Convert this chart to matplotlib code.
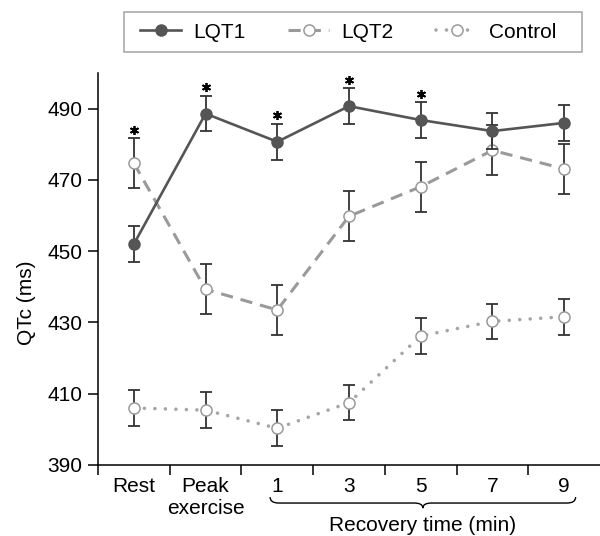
import matplotlib
matplotlib.use("Agg")
import matplotlib.pyplot as plt
from matplotlib.path import Path
from matplotlib.patches import PathPatch, Rectangle
from matplotlib.lines import Line2D

plt.rcParams['font.family'] = ['Liberation Sans', 'DejaVu Sans']

# ---------------- data ----------------
categories = ["Rest", "Peak\nexercise", "1", "3", "5", "7", "9"]
lqt1 = [452.0, 488.6, 480.7, 490.7, 486.8, 483.7, 486.0]
lqt1_err = [5.0, 5.0, 5.0, 5.0, 5.0, 5.0, 5.0]
lqt2 = [474.7, 439.3, 433.5, 459.8, 468.1, 478.3, 473.1]
lqt2_err = [7.0, 7.0, 7.0, 7.0, 7.0, 7.0, 7.0]
control = [406.0, 405.4, 400.3, 407.5, 426.2, 430.3, 431.6]
control_err = [5.0, 5.0, 5.0, 5.0, 5.0, 5.0, 5.0]
significant = [True, True, True, True, True, False, False]
yticks = [390, 410, 430, 450, 470, 490]
series_names = ["LQT1", "LQT2", "Control"]
recovery_label = "Recovery time (min)"
ylabel = "QTc (ms)"

FS = 15
W, H = 600, 536

# ---------------- figure ----------------
fig = plt.figure(figsize=(W/100, H/100), dpi=100)
ax = fig.add_axes([98/W, 1-465/H, 1-98/W, (465-73)/H])

x = list(range(len(categories)))
ecol = "#333333"

# Control
ax.errorbar(x, control, yerr=control_err, fmt='none', ecolor=ecol, elinewidth=1.3,
            capsize=4, capthick=1.3, zorder=1)
ax.plot(x, control, color="#a6a6a6", lw=2.6, linestyle=(0, (0.01, 2.9)),
        dash_capstyle='round', marker='o', ms=8, mfc='white', mec='#9a9a9a',
        mew=1.1, zorder=1.5)
# LQT2
ax.errorbar(x, lqt2, yerr=lqt2_err, fmt='none', ecolor=ecol, elinewidth=1.3,
            capsize=4, capthick=1.3, zorder=2)
ax.plot(x, lqt2, color="#9a9a9a", lw=2.2, linestyle=(0, (4, 2.6)),
        marker='o', ms=8, mfc='white', mec='#9a9a9a', mew=1.1, zorder=2.5)
# LQT1
ax.errorbar(x, lqt1, yerr=lqt1_err, fmt='none', ecolor=ecol, elinewidth=1.3,
            capsize=4, capthick=1.3, zorder=3)
ax.plot(x, lqt1, color="#555555", lw=1.9, linestyle='-',
        marker='o', ms=8, mfc='#555555', mec='#555555', zorder=3.5)

# significance stars
for i, s in enumerate(significant):
    if s:
        top = max(lqt1[i] + lqt1_err[i], lqt2[i] + lqt2_err[i])
        ax.plot([i], [top + 2.4], marker=(6, 2, 0), ms=6.5, mew=1.3,
                color='black', zorder=5, clip_on=False)

# axes styling
ax.set_xlim(-0.5, len(categories) - 0.5)
ax.set_ylim(390, 500)
ax.set_yticks(yticks)
ax.set_yticklabels([str(v) for v in yticks])
ax.spines['top'].set_visible(False)
ax.spines['right'].set_visible(False)
for sp in ('left', 'bottom'):
    ax.spines[sp].set_linewidth(1.1)
ax.tick_params(axis='y', which='major', length=7.5, width=1.1, labelsize=FS, pad=3.5)

ax.set_xticks([i - 0.5 for i in x])
ax.set_xticklabels([])
ax.set_xticks(x, minor=True)
ax.set_xticklabels(categories, minor=True, fontsize=FS, linespacing=1.15)
ax.tick_params(axis='x', which='major', length=7, width=1.1)
ax.tick_params(axis='x', which='minor', length=0, pad=9)

ax.set_ylabel(ylabel, fontsize=FS)
ax.yaxis.set_label_coords(-0.124, 0.415)

# brace under recovery times
tr = ax.get_xaxis_transform()
x0, x1 = 1.9, 6.16
xc = (x0 + x1) / 2
ye, ym, yt = -0.082, -0.097, -0.110
d = 0.12
verts = [(x0, ye), (x0, ym), (x0 + d, ym), (xc - d, ym), (xc, ym), (xc, yt),
         (xc, ym), (xc + d, ym), (x1 - d, ym), (x1, ym), (x1, ye)]
codes = [Path.MOVETO, Path.CURVE3, Path.CURVE3, Path.LINETO, Path.CURVE3, Path.CURVE3,
         Path.CURVE3, Path.CURVE3, Path.LINETO, Path.CURVE3, Path.CURVE3]
ax.add_patch(PathPatch(Path(verts, codes), transform=tr, fill=False,
                       edgecolor='black', lw=1.0, clip_on=False))
ax.text(xc, -0.155, recovery_label, transform=tr, ha='center', va='center', fontsize=FS)

# legend
handles = [
    Line2D([], [], color="#555555", lw=1.9, marker='o', ms=8, mfc='#555555', mec='#555555'),
    Line2D([], [], color="#9a9a9a", lw=2.2, linestyle=(0, (4, 2.6)), marker='o', ms=8,
           mfc='white', mec='#9a9a9a', mew=1.1),
    Line2D([], [], color="#a6a6a6", lw=2.6, linestyle=(0, (0.01, 2.9)), dash_capstyle='round',
           marker='o', ms=8, mfc='white', mec='#9a9a9a', mew=1.1),
]
fig.legend(handles, series_names, loc='center', bbox_to_anchor=(348/W, 1-32/H),
           ncol=3, fontsize=FS, frameon=False, handlelength=2.0,
           handletextpad=0.55, columnspacing=2.05, borderpad=0.4)
fig.patches.append(Rectangle((124/W, 1-52/H), (582-124)/W, 40/H, transform=fig.transFigure,
                             fill=False, edgecolor='#aaaaaa', lw=1.2))

fig.savefig("out.png", dpi=100)
